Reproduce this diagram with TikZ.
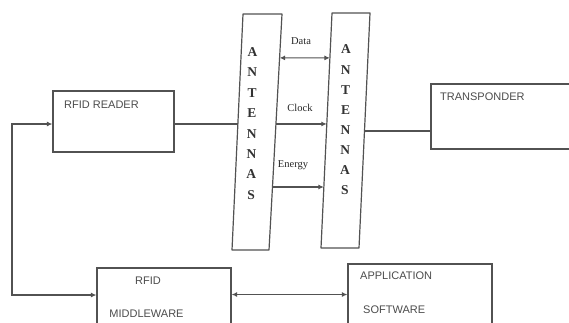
\documentclass[tikz,border=0pt]{standalone}
\usepackage{fontspec}
\setmainfont{Liberation Serif}
\newfontfamily\boxfont{Liberation Sans}
\usetikzlibrary{calc,arrows.meta}
\begin{document}
\begin{tikzpicture}[x=1pt,y=-1pt,
  line/.style={draw=black!68,line width=1.2pt},
  tip/.style={-{Latex[length=5.5pt,width=5pt]}},
  dtip/.style={{Latex[length=5.5pt,width=5pt]}-{Latex[length=5.5pt,width=5pt]}},
  boxlbl/.style={font=\boxfont\fontsize{11}{13}\selectfont,text=black!70,inner sep=0pt},
  sig/.style={font=\fontsize{10.5}{12}\selectfont,text=black!85,inner sep=0pt},
  letter/.style={font=\bfseries\fontsize{13.5}{16}\selectfont,text=black!80,inner sep=0pt},
  blk/.style={line,rectangle,inner sep=0pt}]
\useasboundingbox (0,0) rectangle (569,322);
\clip (0,0) rectangle (569,322);
\fill[white] (0,0) rectangle (569,322);

% boxes
\node[blk,minimum width=121pt,minimum height=61pt] (reader) at (113.5,121.5) {};
\node[boxlbl,anchor=west] (readerlbl) at (64,105) {RFID READER};
\node[blk,minimum width=170pt,minimum height=65pt] (trans) at (516,116.5) {};
\node[boxlbl,anchor=west] (translbl) at (440,97) {TRANSPONDER};
\node[blk,minimum width=134pt,minimum height=80pt] (mid) at (164,308) {};
\node[boxlbl] (midlbl1) at (148,281) {RFID};
\node[boxlbl] (midlbl2) at (146.5,314) {MIDDLEWARE};
\node[blk,minimum width=144pt,minimum height=80pt] (app) at (420,304) {};
\node[boxlbl,anchor=west] (applbl1) at (360,276) {APPLICATION};
\node[boxlbl,anchor=west] (applbl2) at (363,310) {SOFTWARE};

% antennas
\coordinate (latl) at (243,14);
\coordinate (latr) at (282,14);
\coordinate (labr) at (269,250);
\coordinate (labl) at (232,250);
\coordinate (ratl) at (332,13);
\coordinate (ratr) at (370,13);
\coordinate (rabr) at (359,248);
\coordinate (rabl) at (321,248);
\draw[line,line join=round] (latl) -- (latr) -- (labr) -- (labl) -- cycle;
\draw[line,line join=round] (ratl) -- (ratr) -- (rabr) -- (rabl) -- cycle;

\foreach \ch [count=\i from 0] in {A,N,T,E,N,N,A,S}{
  \node[letter] (la\i) at (252.5-0.2*\i,52+20.4*\i) {\ch};
  \node[letter] (ra\i) at (346-0.15*\i,49.5+20.1*\i) {\ch};
}

% points on antenna edges
\coordinate (laL) at ($(latl)!0.466!(labl)$);
\coordinate (laData) at ($(latr)!0.186!(labr)$);
\coordinate (laClock) at ($(latr)!0.466!(labr)$);
\coordinate (laEnergy) at ($(latr)!0.733!(labr)$);
\coordinate (raData) at ($(ratl)!0.191!(rabl)$);
\coordinate (raClock) at ($(ratl)!0.472!(rabl)$);
\coordinate (raEnergy) at ($(ratl)!0.74!(rabl)$);
\coordinate (raR) at ($(ratr)!0.502!(rabr)$);

% connectors
\draw[line] (reader.east |- laL) -- (laL);
\draw[line,dtip] (laData) -- (raData);
\draw[line,tip] (laClock) -- (raClock |- laClock);
\draw[line,tip] (laEnergy) -- (raEnergy |- laEnergy);
\draw[line] (raR) -- (trans.west |- raR);
\node[sig] (datalbl) at (301,41) {Data};
\node[sig] (clocklbl) at (300,108) {Clock};
\node[sig] (energylbl) at (293,165) {Energy};

\coordinate (loop) at (12,124);
\draw[line,dtip] (reader.west |- loop) -- (loop) |- (mid.west |- 0,295);
\draw[line,dtip] (mid.east |- 0,294.5) -- (app.west |- 0,294.5);
\end{tikzpicture}
\end{document}
